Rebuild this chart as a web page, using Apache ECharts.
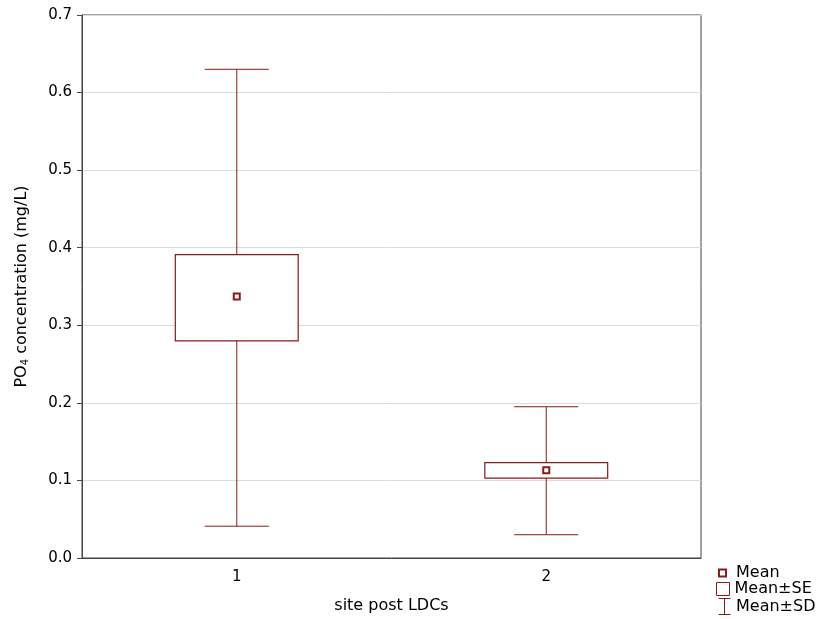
<!DOCTYPE html>
<html>
<head>
<meta charset="utf-8">
<script src="https://cdn.jsdelivr.net/npm/echarts@6/dist/echarts.min.js"></script>
<style>
html,body{margin:0;padding:0;background:#fff;}
#chart{width:816px;height:619px;}
</style>
</head>
<body>
<div id="chart"></div>
<script>
const categories = ['1', '2'];
const means = [0.337, 0.113];
const seLow = [0.280, 0.103];
const seHigh = [0.391, 0.123];
const sdLow = [0.041, 0.030];
const sdHigh = [0.630, 0.195];
const yTicks = [0, 0.1, 0.2, 0.3, 0.4, 0.5, 0.6, 0.7];

const RED = '#8b1a1a';
const FONT = 'DejaVu Sans, Liberation Sans, Arial, sans-serif';

const chart = echarts.init(document.getElementById('chart'));

const seData = categories.map((c, i) => [i, seLow[i], seHigh[i]]);
const sdData = categories.map((c, i) => [i, sdLow[i], sdHigh[i]]);
const meanData = categories.map((c, i) => [i, means[i]]);

function legendBase(top, left, h, w) {
  return {
    orient: 'vertical', left: left, top: top, padding: 0,
    itemWidth: w, itemHeight: h, itemGap: 0,
    selectedMode: false,
    textStyle: { fontFamily: FONT, fontSize: 16, color: '#000', lineHeight: 16 }
  };
}

chart.setOption({
  animation: false,
  backgroundColor: '#fff',
  grid: { left: 82, right: 115, top: 15, bottom: 60, show: true, borderColor: '#444', borderWidth: 1, backgroundColor: 'transparent' },
  legend: [
    Object.assign(legendBase(565, 718, 7, 7), {
      data: [{ name: 'Mean', icon: 'rect', itemStyle: { color: '#fff', borderColor: RED, borderWidth: 2 } }],
      textStyle: { fontFamily: FONT, fontSize: 16, color: '#000', lineHeight: 16, padding: [0, 0, 0, 5] }
    }),
    Object.assign(legendBase(581, 716, 13, 13), {
      data: [{ name: 'Mean±SE', icon: 'rect', itemStyle: { color: '#fff', borderColor: RED, borderWidth: 1 } }]
    }),
    Object.assign(legendBase(596, 716, 16, 13), {
      data: [{ name: 'Mean±SD', icon: 'path://M0,0L12,0M6,0L6,16M0,16L12,16', itemStyle: { color: 'none', borderColor: RED, borderWidth: 1 } }]
    })
  ],
  xAxis: {
    type: 'category',
    data: categories,
    name: 'site post LDCs',
    nameLocation: 'middle',
    nameGap: 40,
    nameTextStyle: { fontFamily: FONT, fontSize: 16, color: '#000' },
    axisLine: { lineStyle: { color: '#444' } },
    axisTick: { alignWithLabel: true, length: 5, lineStyle: { color: '#444' } },
    axisLabel: { fontFamily: FONT, fontSize: 15, color: '#000', margin: 12 },
    splitLine: { show: false }
  },
  yAxis: {
    type: 'value',
    min: 0, max: 0.7, interval: 0.1,
    name: '{a|PO}{s|4}{a| concentration (mg/L)}',
    nameLocation: 'middle',
    nameGap: 52,
    nameRotate: 90,
    nameTextStyle: {
      fontFamily: FONT, fontSize: 16, color: '#000',
      rich: {
        a: { fontFamily: FONT, fontSize: 16, color: '#000', lineHeight: 20, verticalAlign: 'bottom' },
        s: { fontFamily: FONT, fontSize: 10, color: '#000', lineHeight: 20, verticalAlign: 'bottom' }
      }
    },
    axisLine: { show: true, lineStyle: { color: '#444' } },
    axisTick: { show: true, length: 5, lineStyle: { color: '#444' } },
    axisLabel: {
      fontFamily: FONT, fontSize: 15, color: '#000', margin: 10,
      formatter: v => {
        const t = yTicks.find(k => Math.abs(k - v) < 1e-9);
        return (t !== undefined ? t : v).toFixed(1);
      }
    },
    splitLine: { show: true, lineStyle: { color: '#dcdcdc', width: 1 } }
  },
  series: [
    {
      name: 'Mean±SD',
      type: 'custom',
      data: sdData,
      itemStyle: { color: RED },
      z: 2,
      renderItem: function (params, api) {
        const x = api.value(0);
        const lo = api.coord([x, api.value(1)]);
        const hi = api.coord([x, api.value(2)]);
        const band = api.size([1, 0])[0];
        const cw = band * 0.207 / 2;
        const cx = lo[0];
        const st = { stroke: RED, lineWidth: 1, fill: null };
        return {
          type: 'group',
          children: [
            { type: 'line', shape: { x1: cx, y1: lo[1], x2: cx, y2: hi[1] }, style: st },
            { type: 'line', shape: { x1: cx - cw, y1: lo[1], x2: cx + cw, y2: lo[1] }, style: st },
            { type: 'line', shape: { x1: cx - cw, y1: hi[1], x2: cx + cw, y2: hi[1] }, style: st }
          ]
        };
      }
    },
    {
      name: 'Mean±SE',
      type: 'custom',
      data: seData,
      itemStyle: { color: RED },
      z: 3,
      renderItem: function (params, api) {
        const x = api.value(0);
        const lo = api.coord([x, api.value(1)]);
        const hi = api.coord([x, api.value(2)]);
        const band = api.size([1, 0])[0];
        const bw = band * 0.397;
        return {
          type: 'rect',
          shape: { x: lo[0] - bw / 2, y: hi[1], width: bw, height: lo[1] - hi[1] },
          style: { fill: '#fff', stroke: RED, lineWidth: 1.2 }
        };
      }
    },
    {
      name: 'Mean',
      type: 'scatter',
      data: meanData,
      symbol: 'rect',
      symbolSize: 6,
      z: 4,
      itemStyle: { color: '#fff', borderColor: RED, borderWidth: 2, opacity: 1 }
    }
  ]
});
</script>
</body>
</html>
